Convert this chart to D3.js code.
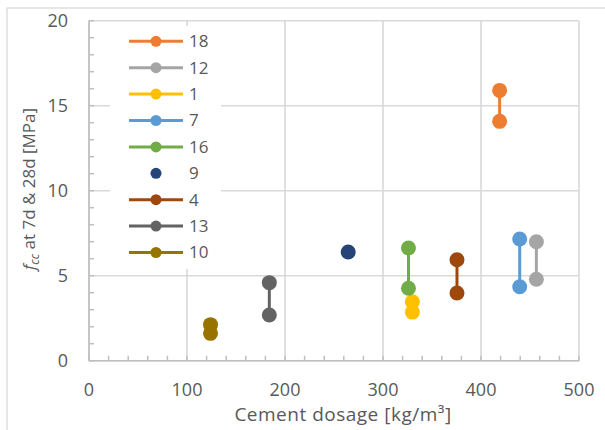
<!DOCTYPE html>
<html>
<head>
<meta charset="utf-8">
<script src="https://cdn.jsdelivr.net/npm/d3@7"></script>
<style>
  html, body { margin: 0; padding: 0; background: #fff; }
  #chart { width: 605px; height: 430px; }
  text { font-family: "Open Sans", sans-serif; fill: #595959; }
</style>
</head>
<body>
<div id="chart"></div>
<script>
const mixes = ['18', '12', '1', '7', '16', '9', '4', '13', '10'];
const colors = ['#ED7D31', '#A5A5A5', '#FFC000', '#5B9BD5', '#70AD47', '#264478', '#9E480E', '#636363', '#997300'];
const dosage = [419, 456.5, 330, 439.5, 326, 264.5, 375.5, 184, 124];
const fc7 = [14.08, 4.79, 2.86, 4.35, 4.26, null, 3.98, 2.69, 1.61];
const fc28 = [15.9, 7.0, 3.47, 7.16, 6.63, 6.39, 5.94, 4.59, 2.12];
const xTicks = [0, 100, 200, 300, 400, 500];
const yTicks = [0, 5, 10, 15, 20];

const w = 605, h = 430;
const m = { t: 20.7, r: 26, b: 69.3, l: 89 };
const innerW = w - m.l - m.r;
const innerH = h - m.t - m.b;

const svg = d3.select('#chart').append('svg').attr('width', w).attr('height', h);
svg.append('rect').attr('x', 7).attr('y', 8).attr('width', w).attr('height', h)
  .attr('fill', 'none').attr('stroke', '#d0d0d0').attr('stroke-width', 1);

const g = svg.append('g').attr('transform', `translate(${m.l},${m.t})`);
const x = d3.scaleLinear().domain([0, 500]).range([0, innerW]);
const y = d3.scaleLinear().domain([0, 20]).range([innerH, 0]);
const grid = '#d9d9d9';

// gridlines
g.append('g').selectAll('line').data(yTicks).join('line')
  .attr('x1', 0).attr('x2', innerW).attr('y1', d => y(d)).attr('y2', d => y(d))
  .attr('stroke', grid).attr('stroke-width', 1.6);
g.append('g').selectAll('line').data(xTicks).join('line')
  .attr('y1', 0).attr('y2', innerH).attr('x1', d => x(d)).attr('x2', d => x(d))
  .attr('stroke', grid).attr('stroke-width', 1.6);

// minor ticks pointing inward
g.append('g').selectAll('line').data(d3.range(0, 501, 20)).join('line')
  .attr('x1', d => x(d)).attr('x2', d => x(d)).attr('y1', innerH).attr('y2', innerH - 5)
  .attr('stroke', '#bfbfbf').attr('stroke-width', 1.5);
g.append('g').selectAll('line').data(d3.range(0, 21, 1)).join('line')
  .attr('y1', d => y(d)).attr('y2', d => y(d)).attr('x1', 0).attr('x2', 5)
  .attr('stroke', '#bfbfbf').attr('stroke-width', 1.5);

// axis lines
g.append('line').attr('x1', 0).attr('x2', innerW).attr('y1', innerH).attr('y2', innerH)
  .attr('stroke', '#bfbfbf').attr('stroke-width', 1.6);
g.append('line').attr('x1', 0).attr('x2', 0).attr('y1', 0).attr('y2', innerH)
  .attr('stroke', '#bfbfbf').attr('stroke-width', 1.6);

// tick labels
g.append('g').selectAll('text').data(xTicks).join('text')
  .attr('x', d => x(d)).attr('y', innerH + 35).attr('text-anchor', 'middle')
  .style('font-size', '18px').text(d => d);
g.append('g').selectAll('text').data(yTicks).join('text')
  .attr('x', -21).attr('y', d => y(d)).attr('dy', '0.35em').attr('text-anchor', 'end')
  .style('font-size', '18px').text(d => d);

// axis titles
svg.append('text').attr('x', 343).attr('y', 421).attr('text-anchor', 'middle')
  .style('font-size', '19px').style('letter-spacing', '0.5px').text('Cement dosage [kg/m³]');
const yt = svg.append('text').attr('transform', 'translate(35,189) rotate(-90)')
  .attr('text-anchor', 'middle').style('font-size', '17px');
yt.append('tspan').style('font-style', 'italic').text('f');
yt.append('tspan').style('font-style', 'italic').style('font-size', '12px').attr('dy', 4).text('cc');
yt.append('tspan').attr('dy', -4).text(' at 7d & 28d [MPa]');

// data
const rows = mixes.map((k, i) => ({ k, c: colors[i], x: dosage[i], a: fc7[i], b: fc28[i] }));
const pts = g.append('g');
rows.forEach(r => {
  const vals = [r.a, r.b].filter(v => v != null);
  if (vals.length > 1) {
    pts.append('line').attr('x1', x(r.x)).attr('x2', x(r.x))
      .attr('y1', y(vals[0])).attr('y2', y(vals[1]))
      .attr('stroke', r.c).attr('stroke-width', 3);
  }
  vals.forEach(v => {
    pts.append('circle').attr('cx', x(r.x)).attr('cy', y(v)).attr('r', 7.5).attr('fill', r.c);
  });
});

// legend
const lg = svg.append('g');
lg.append('rect').attr('x', 110).attr('y', 26).attr('width', 111).attr('height', 243).attr('fill', '#fff');
rows.forEach((r, i) => {
  const ly = 41.3 + i * 26.4;
  if (r.a != null) {
    lg.append('line').attr('x1', 129).attr('x2', 183).attr('y1', ly).attr('y2', ly)
      .attr('stroke', r.c).attr('stroke-width', 3);
  }
  lg.append('circle').attr('cx', 156).attr('cy', ly).attr('r', 5.5).attr('fill', r.c);
  lg.append('text').attr('x', 189).attr('y', ly).attr('dy', '0.35em')
    .style('font-size', '17px').text(r.k);
});
</script>
</body>
</html>
